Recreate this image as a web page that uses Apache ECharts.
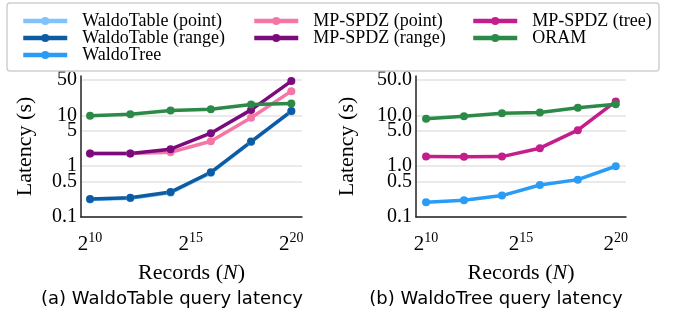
<!DOCTYPE html>
<html>
<head>
<meta charset="utf-8">
<script src="https://cdn.jsdelivr.net/npm/echarts@6/dist/echarts.min.js"></script>
<style>
  html, body { margin: 0; padding: 0; background: #fff; }
  #chart { width: 673px; height: 314px; }
</style>
</head>
<body>
<div id="chart"></div>
<script>
// records N (2^10 .. 2^20)
var records = [1024, 4096, 16384, 65536, 262144, 1048576];
var xTicks = [1024, 32768, 1048576];
var yTicks = [0.1, 0.5, 1, 5, 10, 50];

// (a) WaldoTable query latency, seconds
var waldoTablePoint = [0.22, 0.235, 0.30, 0.74, 3.0, 12.0];
var waldoTableRange = [0.226, 0.24, 0.31, 0.76, 3.07, 12.2];
var mpspdzPoint = [1.78, 1.78, 1.89, 3.1, 9.0, 30.2];
var mpspdzRange = [1.78, 1.78, 2.17, 4.48, 12.9, 47.6];
var oramA = [9.85, 10.6, 12.6, 13.3, 16.5, 17.3];

// (b) WaldoTree query latency, seconds
var waldoTree = [0.195, 0.213, 0.264, 0.428, 0.545, 1.0];
var mpspdzTree = [1.55, 1.53, 1.55, 2.27, 5.13, 18.9];
var oramB = [8.6, 9.7, 11.1, 11.5, 14.2, 16.7];

var colors = {
    'WaldoTable (point)': '#80c2fb',
    'WaldoTable (range)': '#0d5ca3',
    'WaldoTree': '#2a9cf5',
    'MP-SPDZ (point)': '#f576a6',
    'MP-SPDZ (range)': '#7b0b7c',
    'MP-SPDZ (tree)': '#c41d8c',
    'ORAM': '#2b8a47'
};

var serif = 'Liberation Serif';

function pairs(ys) {
    return records.map(function (x, i) { return [x, ys[i]]; });
}

function line(name, ys, idx) {
    return {
        name: name,
        type: 'line',
        xAxisIndex: idx,
        yAxisIndex: idx,
        data: pairs(ys),
        symbol: 'circle',
        symbolSize: 8,
        lineStyle: { width: 3.5, color: colors[name] },
        itemStyle: { color: colors[name] },
        z: 3
    };
}

function makeX(idx, min, max) {
    return {
        type: 'log',
        logBase: 2,
        gridIndex: idx,
        min: min,
        max: max,
        name: '{n|Records (}{i|N}{n|)}',
        nameLocation: 'middle',
        nameGap: 45,
        nameTextStyle: {
            rich: {
                n: { fontFamily: serif, fontSize: 22, color: '#000' },
                i: { fontFamily: serif, fontSize: 22, fontStyle: 'italic', color: '#000' }
            }
        },
        axisLine: { lineStyle: { color: '#222', width: 1.5 } },
        axisTick: { show: false },
        splitLine: { show: false },
        axisLabel: {
            customValues: xTicks,
            margin: 14,
            formatter: function (v) {
                return '{b|2}{s|' + Math.round(Math.log2(v)) + '}';
            },
            rich: {
                b: { fontFamily: serif, fontSize: 21, color: '#000', lineHeight: 24, verticalAlign: 'bottom' },
                s: { fontFamily: serif, fontSize: 14, color: '#000', lineHeight: 24, verticalAlign: 'top' }
            }
        }
    };
}

function makeY(idx, nameGap, fixed) {
    return {
        type: 'log',
        logBase: 10,
        gridIndex: idx,
        min: 0.1,
        max: 60,
        name: 'Latency (s)',
        nameLocation: 'middle',
        nameRotate: 90,
        nameGap: nameGap,
        nameTextStyle: { fontFamily: serif, fontSize: 22, color: '#000' },
        axisLine: { show: true, lineStyle: { color: '#222', width: 1.5 } },
        axisTick: { show: false, customValues: yTicks },
        splitLine: { show: true, lineStyle: { color: '#e3e3e3', width: 1.5 } },
        axisLabel: {
            customValues: yTicks,
            margin: 4,
            fontFamily: serif,
            fontSize: 20,
            color: '#000',
            formatter: function (v) {
                return fixed ? Number(v).toFixed(1) : String(+Number(v).toPrecision(3));
            }
        }
    };
}

function legendCol(names, left) {
    return {
        data: names,
        orient: 'vertical',
        left: left,
        top: 7,
        itemWidth: 44,
        itemHeight: 10,
        itemGap: -1,
        z: 10,
        lineStyle: { width: 4.5 },
        textStyle: { fontFamily: serif, fontSize: 18, color: '#000', padding: [0, 0, 0, 10] }
    };
}

var myChart = echarts.init(document.getElementById('chart'));
var option = {
    animation: false,
    backgroundColor: '#fff',
    grid: [
        { left: 81, right: 371, top: 76, bottom: 97 },
        { left: 416, right: 47, top: 76, bottom: 97 }
    ],
    xAxis: [
        makeX(0, Math.pow(2, 9.55), Math.pow(2, 20.53)),
        makeX(1, Math.pow(2, 9.47), Math.pow(2, 20.54))
    ],
    yAxis: [
        makeY(0, 45, false),
        makeY(1, 58, true)
    ],
    legend: [
        legendCol(['WaldoTable (point)', 'WaldoTable (range)', 'WaldoTree'], 16),
        legendCol(['MP-SPDZ (point)', 'MP-SPDZ (range)'], 247),
        legendCol(['MP-SPDZ (tree)', 'ORAM'], 466)
    ],
    graphic: [
        {
            type: 'rect', z: 5,
            shape: { x: 7, y: 3, width: 652, height: 68, r: 3 },
            style: { fill: '#fff', stroke: '#d0d0d0', lineWidth: 1.5 }
        },
        {
            type: 'text', z: 5, x: 172, y: 299,
            style: { text: '(a) WaldoTable query latency', font: '18px "DejaVu Sans"', fill: '#000', align: 'center', verticalAlign: 'middle' }
        },
        {
            type: 'text', z: 5, x: 496, y: 299,
            style: { text: '(b) WaldoTree query latency', font: '18px "DejaVu Sans"', fill: '#000', align: 'center', verticalAlign: 'middle' }
        }
    ],
    series: [
        line('WaldoTable (point)', waldoTablePoint, 0),
        line('WaldoTable (range)', waldoTableRange, 0),
        line('MP-SPDZ (point)', mpspdzPoint, 0),
        line('MP-SPDZ (range)', mpspdzRange, 0),
        line('ORAM', oramA, 0),
        line('WaldoTree', waldoTree, 1),
        line('MP-SPDZ (tree)', mpspdzTree, 1),
        line('ORAM', oramB, 1)
    ]
};
myChart.setOption(option);
</script>
</body>
</html>
